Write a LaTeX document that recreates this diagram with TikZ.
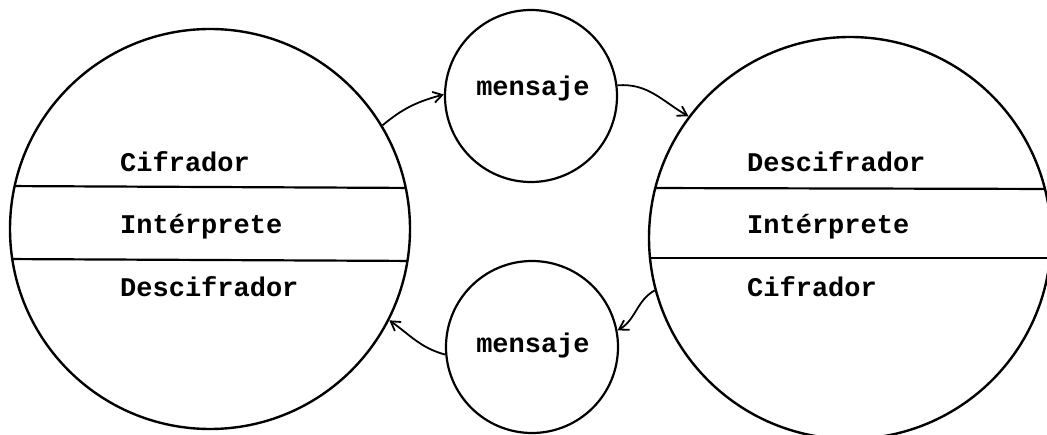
\documentclass[tikz,border=0pt]{standalone}
\usepackage{fontspec}
\setmonofont{Liberation Mono}
\usetikzlibrary{arrows.meta}
\tikzset{
  bigcirc/.style={circle, draw, line width=2.4pt, inner sep=0pt},
  msgcirc/.style={circle, draw, line width=2.2pt, inner sep=0pt, minimum size=172pt, font=\ttfamily\bfseries\fontsize{27}{30}\selectfont},
  lbl/.style={anchor=west, inner sep=0pt, font=\ttfamily\bfseries\fontsize{27}{30}\selectfont},
  rule/.style={line width=2.2pt},
  conn/.style={line width=1.8pt, -{Straight Barb[length=9pt,width=11pt,line width=1.8pt]}},
}
\begin{document}
\begin{tikzpicture}[x=1pt,y=-1pt]
\useasboundingbox (0,0) rectangle (1047,435);
% main circles
\node[bigcirc, minimum size=400pt] (L) at (210,229) {};
\node[bigcirc, minimum size=402pt] (R) at (850,238) {};
% message circles
\node[msgcirc] (M1) at (531,96) {};
\node[msgcirc] (M2) at (532,347) {};
\node[lbl, anchor=center] (t1) at (533,89) {mensaje};
\node[lbl, anchor=center] (t2) at (533,346) {mensaje};
% rules inside circles
\begin{scope}
  \clip (210,229) circle (200pt);
  \draw[rule] (0,186) -- (420,188);
  \draw[rule] (0,259) -- (420,261);
\end{scope}
\begin{scope}
  \clip (850,238) circle (201pt);
  \draw[rule] (640,188) -- (1060,189);
  \draw[rule] (640,258) -- (1060,258);
\end{scope}
% labels
\node[lbl] (lc) at (120,162) {Cifrador};
\node[lbl] (li) at (120,227) {Intérprete};
\node[lbl] (ld) at (120,287) {Descifrador};
\node[lbl] (rd) at (747,162) {Descifrador};
\node[lbl] (ri) at (747,227) {Intérprete};
\node[lbl] (rc) at (747,287) {Cifrador};
% connectors
\draw[conn] (L.31) to[out=40,in=195] (M1.179);
\draw[conn] (M1.7) to[out=5,in=150] (R.143);
\draw[conn] (R.195) to[out=210,in=30] (M2.11);
\draw[conn] (M2.185) to[out=165,in=-35] (L.-27);
\end{tikzpicture}
\end{document}
